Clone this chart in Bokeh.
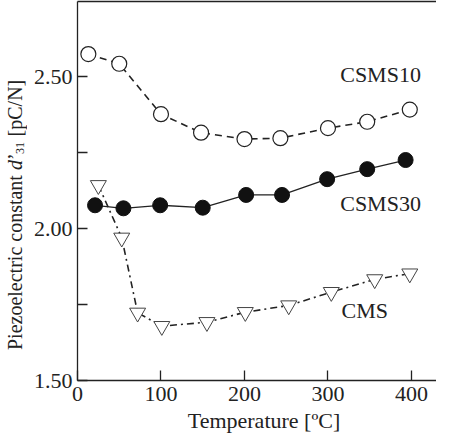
from bokeh.plotting import figure
from bokeh.models import Range1d, FixedTicker, LinearAxis, Label, Div
from bokeh.layouts import row, column
from bokeh.embed import file_html
from bokeh.resources import INLINE

# Data
csms10_t = [13, 50, 100, 148, 200, 243, 300, 347, 398]
csms10_d = [2.575, 2.543, 2.377, 2.316, 2.295, 2.298, 2.331, 2.352, 2.392]

csms30_t = [21, 55, 99, 150, 202, 245, 299, 347, 393]
csms30_d = [2.077, 2.067, 2.077, 2.069, 2.111, 2.111, 2.163, 2.196, 2.226]

cms_t = [25, 53, 72, 101, 155, 201, 253, 304, 356, 398]
cms_d = [2.143, 1.970, 1.723, 1.679, 1.692, 1.725, 1.747, 1.791, 1.833, 1.852]

x_ticks = [0, 100, 200, 300, 400]
y_ticks = [1.50, 1.75, 2.00, 2.25, 2.50]
y_tick_labels = {1.5: "1.50", 1.75: "", 2.0: "2.00", 2.25: "", 2.5: "2.50"}

x_title = "Temperature [ºC]"
y_title_html = "Piezoelectric constant <i>d</i>’<sub style='font-size:12px;margin-left:3px'>31</sub> [pC/N]"

FONT = "Liberation Serif"
TXT = "#222222"

p = figure(width=406, height=412, output_backend="svg", toolbar_location=None,
           x_range=Range1d(0, 430), y_range=Range1d(1.5, 2.748),
           min_border_left=45, min_border_right=0, min_border_top=1,
           min_border_bottom=32)
p.outline_line_color = None
p.xgrid.visible = False
p.ygrid.visible = False
p.background_fill_color = "white"
p.border_fill_color = "white"

for ax in (p.xaxis[0], p.yaxis[0]):
    ax.major_tick_in = 10
    ax.major_tick_out = 0
    ax.minor_tick_line_color = None
    ax.axis_line_color = TXT
    ax.axis_line_width = 1.3
    ax.major_tick_line_color = TXT
    ax.major_tick_line_width = 1.3
    ax.major_label_text_font = FONT
    ax.major_label_text_font_size = "22px"
    ax.major_label_text_color = TXT

p.xaxis[0].ticker = FixedTicker(ticks=x_ticks)
p.xaxis[0].major_label_standoff = 6

p.yaxis[0].ticker = FixedTicker(ticks=y_ticks)
p.yaxis[0].major_label_overrides = y_tick_labels
p.yaxis[0].major_label_standoff = 5

top = LinearAxis(ticker=FixedTicker(ticks=[]), major_tick_out=0, major_tick_in=0,
                 minor_tick_line_color=None, axis_line_color=TXT, axis_line_width=1.3,
                 major_label_text_font_size="0px")
p.add_layout(top, "above")

# CSMS10 - open circles, dashed
p.line(csms10_t, csms10_d, line_color=TXT, line_width=1.6, line_dash="7 5")
p.scatter(csms10_t, csms10_d, marker="circle", size=15, fill_color="white",
          line_color=TXT, line_width=1.2)

# CSMS30 - filled circles, solid
p.line(csms30_t, csms30_d, line_color=TXT, line_width=1.3)
p.scatter(csms30_t, csms30_d, marker="circle", size=15, fill_color="#111111",
          line_color="#111111", line_width=1.0)

# CMS - open inverted triangles, dash-dot
p.line(cms_t, cms_d, line_color=TXT, line_width=1.6, line_dash="7 4 2 4")
p.scatter(cms_t, cms_d, marker="inverted_triangle", size=16, fill_color="white",
          line_color="#444444", line_width=1.0)

for txt, x, y in (("CSMS10", 363, 2.509), ("CSMS30", 363, 2.083), ("CMS", 344, 1.729)):
    p.add_layout(Label(x=x, y=y, text=txt, text_font=FONT, text_font_size="22px",
                       text_color=TXT, text_align="center", text_baseline="middle"))

ydiv = Div(text=y_title_html, width=27, height=430, margin=(0, 0, 0, 3),
           styles={"font-family": FONT, "font-size": "20px", "line-height": "24px",
                   "color": TXT, "writing-mode": "vertical-rl",
                   "transform": "rotate(180deg)", "text-align": "center",
                   "white-space": "nowrap"})
xdiv = Div(text=x_title, width=200, height=19, margin=(0, 0, 0, 134),
           styles={"font-family": FONT, "font-size": "22px", "line-height": "18px",
                   "color": TXT, "text-align": "center", "white-space": "nowrap"})

layout = row(ydiv, column(p, xdiv, spacing=0), spacing=0)

open("out.html", "w").write(file_html(layout, INLINE))
